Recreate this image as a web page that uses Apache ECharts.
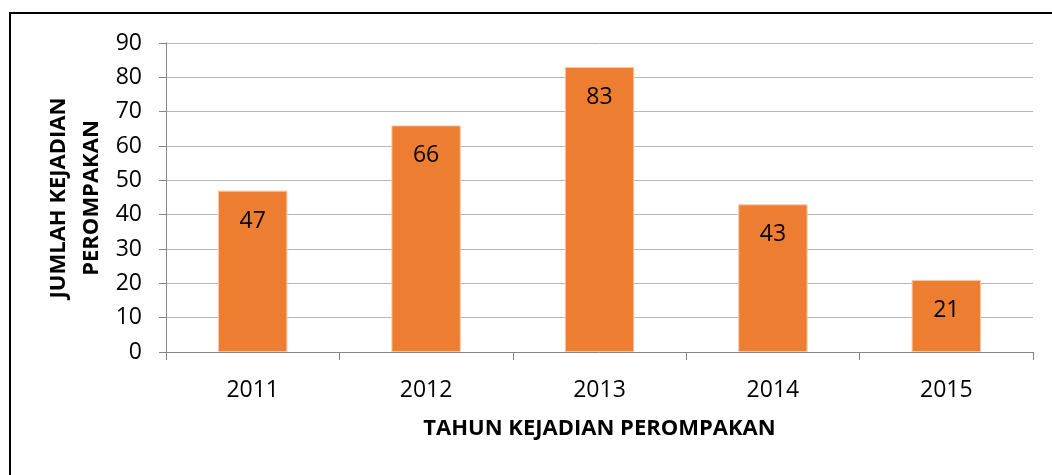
<!DOCTYPE html>
<html>
<head>
<meta charset="utf-8">
<script src="https://cdn.jsdelivr.net/npm/echarts@6/dist/echarts.min.js"></script>
<style>
  html, body { margin: 0; padding: 0; background: #fff; }
  #chart { width: 1052px; height: 475px; }
</style>
</head>
<body>
<div id="chart"></div>
<script>
// data
const years = ['2011', '2012', '2013', '2014', '2015'];
const kejadian = [47, 66, 83, 43, 21];
const yTicks = [0, 10, 20, 30, 40, 50, 60, 70, 80, 90];
const yTitle = ['JUMLAH KEJADIAN', 'PEROMPAKAN'];

const font = '"Open Sans", Lato, sans-serif';
let chart = echarts.init(document.getElementById('chart'));

// y title as two rotated lines
const yTitleText = yTitle.map((t, i) => ({
  type: 'text',
  x: 59 + i * 33,
  y: 198,
  rotation: Math.PI / 2,
  style: {
    text: t, fontFamily: font, fontWeight: 'bold', fontSize: 22, fill: '#000',
    align: 'center', verticalAlign: 'middle'
  }
}));

chart.setOption({
  animation: false,
  backgroundColor: '#fff',
  graphic: [{
    type: 'rect',
    shape: {x: 10, y: 13, width: 1060, height: 480},
    style: {fill: 'none', stroke: '#000', lineWidth: 2}
  }].concat(yTitleText),
  grid: {left: 166, right: 19, top: 43, bottom: 123},
  xAxis: {
    type: 'category',
    data: years,
    name: 'TAHUN KEJADIAN PEROMPAKAN',
    nameLocation: 'middle',
    nameGap: 66,
    nameTextStyle: {fontFamily: font, fontWeight: 'bold', fontSize: 22, color: '#000'},
    axisLine: {lineStyle: {color: '#868686', width: 1}},
    axisTick: {show: true, length: 8, lineStyle: {color: '#868686'}},
    axisLabel: {fontFamily: font, fontSize: 23, color: '#000', margin: 27}
  },
  yAxis: {
    type: 'value',
    min: yTicks[0],
    max: yTicks[yTicks.length - 1],
    interval: 10,
    axisLine: {show: true, lineStyle: {color: '#868686', width: 1}},
    axisTick: {show: true, length: 7, lineStyle: {color: '#868686'}},
    axisLabel: {fontFamily: font, fontSize: 23, color: '#000', margin: 24},
    splitLine: {lineStyle: {color: '#b7b7b7', width: 1}}
  },
  series: [{
    type: 'bar',
    data: kejadian,
    barWidth: '40%',
    itemStyle: {color: '#ed7d31', borderColor: '#f7c7a5', borderWidth: 1},
    label: {
      show: true,
      position: 'insideTop',
      distance: 19,
      fontFamily: font,
      fontSize: 23,
      color: '#000'
    }
  }]
});
</script>
</body>
</html>
